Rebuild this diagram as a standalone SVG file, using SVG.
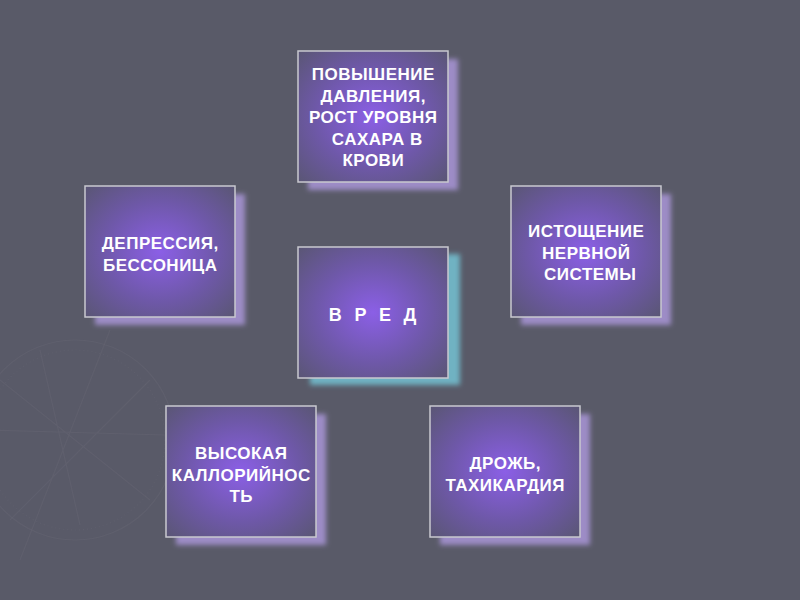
<svg xmlns="http://www.w3.org/2000/svg" width="800" height="600" viewBox="0 0 800 600">
<defs>
<radialGradient id="boxg" cx="50%" cy="50%" r="70%">
<stop offset="0" stop-color="#8b5fe6"/>
<stop offset="0.55" stop-color="#6e58a8"/>
<stop offset="1" stop-color="#5a5675"/>
</radialGradient>
<filter id="blur" x="-20%" y="-20%" width="140%" height="140%">
<feGaussianBlur stdDeviation="2.5"/>
</filter>
</defs>
<style>
.box{fill:url(#boxg);stroke:#c9c9cf;stroke-width:1.5}
.sh{fill:#9d8cc6;filter:url(#blur)}
.shc{fill:#6fb2c2;filter:url(#blur)}
.t{font-family:"Liberation Sans",Arial,sans-serif;font-weight:bold;font-size:17px;letter-spacing:0.5px;fill:#ffffff;text-anchor:middle}
.big{font-size:18px;letter-spacing:3.8px}
.deco{fill:none;stroke:#666674;stroke-width:1.2;opacity:0.45}
</style>
<rect width="800" height="600" fill="#595a68"/>
<g id="compass">
<circle class="deco" cx="75" cy="440" r="100"/>
<circle class="deco" cx="75" cy="440" r="90" stroke-dasharray="1 3"/>
<path class="deco" d="M40 350 L80 525 M110 330 L20 560 M-10 430 L165 435 M0 380 L150 500 M150 380 L10 520"/>
</g>
<g id="connectors"></g>
<g id="n-top">
<rect class="sh" x="308" y="59" width="150" height="131"/>
<rect class="box" x="298" y="51" width="150" height="131"/>
<text class="t" x="373.25" y="80">ПОВЫШЕНИЕ</text>
<text class="t" x="373.25" y="101.5">ДАВЛЕНИЯ,</text>
<text class="t" x="373.25" y="123">РОСТ УРОВНЯ</text>
<text class="t" x="377.25" y="144.5">САХАРА В</text>
<text class="t" x="373.25" y="166">КРОВИ</text>
</g>
<g id="n-left">
<rect class="sh" x="95" y="194" width="150" height="131"/>
<rect class="box" x="85" y="186" width="150" height="131"/>
<text class="t" x="160.25" y="249">ДЕПРЕССИЯ,</text>
<text class="t" x="160.25" y="270.5">БЕССОНИЦА</text>
</g>
<g id="n-right">
<rect class="sh" x="521" y="194" width="150" height="131"/>
<rect class="box" x="511" y="186" width="150" height="131"/>
<text class="t" x="586.25" y="237">ИСТОЩЕНИЕ</text>
<text class="t" x="586.25" y="258.5">НЕРВНОЙ</text>
<text class="t" x="590.25" y="280">СИСТЕМЫ</text>
</g>
<g id="n-center">
<rect class="shc" x="310" y="254" width="150" height="131"/>
<rect class="box" x="298" y="247" width="150" height="131"/>
<text class="t big" x="374.5" y="321">В Р Е Д</text>
</g>
<g id="n-bl">
<rect class="sh" x="176" y="414" width="150" height="131"/>
<rect class="box" x="166" y="406" width="150" height="131"/>
<text class="t" x="241.25" y="459">ВЫСОКАЯ</text>
<text class="t" x="241.25" y="480.5">КАЛЛОРИЙНОС</text>
<text class="t" x="241.25" y="502">ТЬ</text>
</g>
<g id="n-br">
<rect class="sh" x="440" y="414" width="150" height="131"/>
<rect class="box" x="430" y="406" width="150" height="131"/>
<text class="t" x="505.25" y="469">ДРОЖЬ,</text>
<text class="t" x="505.25" y="490.5">ТАХИКАРДИЯ</text>
</g>
</svg>
